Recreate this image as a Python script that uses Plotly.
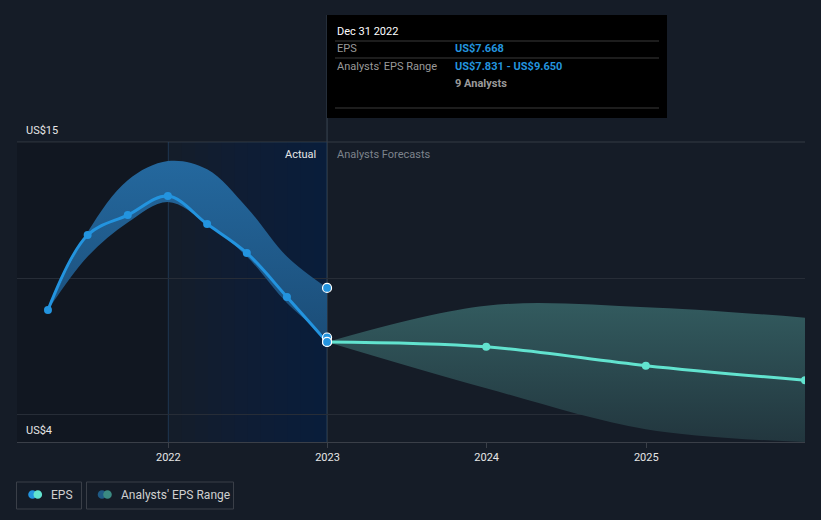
import plotly.graph_objects as go
import datetime as dt

# ---------------- data ----------------
actual_dates = ["2021-03-31", "2021-06-30", "2021-09-30", "2021-12-31",
                "2022-03-31", "2022-06-30", "2022-09-30", "2022-12-31"]
actual_eps = [8.84, 11.59, 12.32, 13.02, 11.99, 10.93, 9.32, 7.668]
actual_range_low = [8.84, 10.8, 12.05, 12.8, 12.0, 10.8, 9.1, 7.831]
actual_range_high = [8.84, 11.7, 13.6, 14.3, 14.0, 12.6, 10.8, 9.65]

forecast_dates = ["2022-12-31", "2023-12-31", "2024-12-31", "2025-12-31"]
forecast_eps = [7.668, 7.49, 6.8, 6.26]
forecast_low = [7.668, 5.97, 4.47, 4.0]
forecast_high = [7.668, 9.0, 8.94, 8.56]

tick_years = ["2022-01-01", "2023-01-01", "2024-01-01", "2025-01-01"]
tick_labels = ["2022", "2023", "2024", "2025"]
y_labels = ["US$15", "US$4"]
y_label_vals = [15, 4]

BG = "#151c27"
BLUE = "#2394df"
TEAL = "#62e3cf"
FONT = "Roboto"

# plot area in pixels
W, H = 821, 520
L, R, T, B = 17, 805, 120, 442


def px(xp):
    return (xp - L) / (R - L)


def py(yp):
    return (B - yp) / (B - T)


fig = go.Figure()

# actual range band
fig.add_trace(go.Scatter(x=actual_dates, y=actual_range_low, mode="lines",
                         line=dict(width=0, shape="spline", color="rgba(0,0,0,0)"),
                         hoverinfo="skip", showlegend=False))
fig.add_trace(go.Scatter(x=actual_dates, y=actual_range_high, mode="lines",
                         line=dict(width=0, shape="spline", color="rgba(0,0,0,0)"),
                         fill="tonexty", fillcolor="rgba(35,125,200,0.6)",
                         fillgradient=dict(type="vertical", start=7.5, stop=14.3,
                                           colorscale=[[0, "rgb(27,76,118)"], [1, "rgb(36,104,158)"]]),
                         hoverinfo="skip", showlegend=False))

# forecast range band
fig.add_trace(go.Scatter(x=forecast_dates, y=forecast_low, mode="lines",
                         line=dict(width=0, shape="spline", color="rgba(0,0,0,0)"),
                         hoverinfo="skip", showlegend=False))
fig.add_trace(go.Scatter(x=forecast_dates, y=forecast_high, mode="lines",
                         line=dict(width=0, shape="spline", color="rgba(0,0,0,0)"),
                         fill="tonexty", fillcolor="rgba(88,200,190,0.28)",
                         fillgradient=dict(type="vertical", start=4, stop=9,
                                           colorscale=[[0, "rgb(34,54,62)"], [1, "rgb(50,90,94)"]]),
                         hoverinfo="skip", showlegend=False))

# forecast EPS line
fig.add_trace(go.Scatter(x=forecast_dates, y=forecast_eps, mode="lines+markers",
                         line=dict(color=TEAL, width=3, shape="spline"),
                         marker=dict(size=8, color=TEAL),
                         showlegend=False))

# actual EPS line
fig.add_trace(go.Scatter(x=actual_dates, y=actual_eps, mode="lines+markers",
                         line=dict(color=BLUE, width=3, shape="spline"),
                         marker=dict(size=8, color=BLUE),
                         showlegend=False))

# highlighted points at the present date
fig.add_trace(go.Scatter(x=[forecast_dates[0]] * 4,
                         y=[forecast_eps[0], actual_range_low[-1], actual_range_high[-1], actual_eps[-1]],
                         mode="markers",
                         marker=dict(size=9, color=BLUE, line=dict(color="white", width=1.2)),
                         showlegend=False, cliponaxis=False))

shapes = []
# darker region before 2022
shapes.append(dict(type="rect", xref="x", yref="y", x0="2021-01-01", x1=tick_years[0],
                   y0=4, y1=15, fillcolor="rgba(0,0,0,0.15)", line_width=0, layer="below"))
# gradient highlight (2022 -> present), overlapping rects for a seamless ramp
n = 11
d0 = dt.date(2022, 1, 1)
d1 = dt.date(2022, 12, 31)
span = (d1 - d0).days
shapes.append(dict(type="rect", xref="x", yref="y", x0=str(d0), x1=str(d1),
                   y0=4, y1=15, fillcolor="rgba(15,75,150,0.03)", line_width=0, layer="below"))
for i in range(1, n + 1):
    a = d0 + dt.timedelta(days=round(span * i / (n + 1)))
    shapes.append(dict(type="rect", xref="x", yref="y", x0=str(a), x1=str(d1),
                       y0=4, y1=15, fillcolor="rgba(15,75,150,0.02)",
                       line_width=0, layer="below"))
# vertical lines
shapes.append(dict(type="line", xref="x", yref="y", x0=tick_years[0], x1=tick_years[0],
                   y0=4, y1=15, line=dict(color="rgba(40,75,110,0.6)", width=1), layer="below"))
shapes.append(dict(type="line", xref="x", yref="paper", x0="2022-12-31", x1="2022-12-31",
                   y0=0, y1=py(15), line=dict(color="#3a4553", width=1), layer="below"))
# top gridline brighter
shapes.append(dict(type="line", xref="paper", yref="y", x0=0, x1=1, y0=15, y1=15,
                   line=dict(color="#343a44", width=1), layer="below"))

# tooltip box
shapes.append(dict(type="rect", xref="paper", yref="paper", x0=px(327), x1=px(667),
                   y0=py(118), y1=py(15), fillcolor="#000000", line_width=0, layer="above"))
for yy in (41, 58, 108):
    shapes.append(dict(type="line", xref="paper", yref="paper", x0=px(335), x1=px(659),
                       y0=py(yy), y1=py(yy), line=dict(color="#3a3a3a", width=1), layer="above"))

# legend boxes
shapes.append(dict(type="rect", xref="paper", yref="paper", x0=px(16.5), x1=px(81.5),
                   y0=py(509), y1=py(482), line=dict(color="#3a3f48", width=1),
                   fillcolor="rgba(0,0,0,0)"))
shapes.append(dict(type="rect", xref="paper", yref="paper", x0=px(86.5), x1=px(233.5),
                   y0=py(509), y1=py(482), line=dict(color="#3a3f48", width=1),
                   fillcolor="rgba(0,0,0,0)"))


def circle(cx, cy, r, color):
    return dict(type="circle", xref="paper", yref="paper",
                x0=px(cx - r), x1=px(cx + r), y0=py(cy + r), y1=py(cy - r),
                fillcolor=color, line_width=0)


shapes += [circle(32.5, 494.5, 4.3, BLUE), circle(37.8, 494.5, 4.3, TEAL),
           circle(102, 494.5, 4.3, "#1f5a85"), circle(107.5, 494.5, 4.3, "#3b8a82")]

ann = []


def text(x, y, s, color, size=11, anchor="left", bold=False):
    ann.append(dict(xref="paper", yref="paper", x=px(x), y=py(y), text=f"<b>{s}</b>" if bold else s,
                    showarrow=False, xanchor=anchor, yanchor="middle",
                    font=dict(family=FONT, size=size, color=color)))


for lab, v in zip(y_labels, y_label_vals):
    ann.append(dict(xref="paper", yref="y", x=px(24), y=v, text=lab, showarrow=False,
                    xanchor="left", yanchor="bottom", yshift=3,
                    font=dict(family=FONT, size=11, color="#e6e6e6")))

text(318, 154, "Actual", "#e6e6e6", 11, anchor="right")
text(335, 154, "Analysts Forecasts", "#7d838c", 11)

text(335, 31, "Dec 31 2022", "#ffffff", 11)
text(335, 49, "EPS", "#9a9a9a", 11)
text(453, 49, "US$7.668", BLUE, 11, bold=True)
text(335, 66, "Analysts' EPS Range", "#9a9a9a", 11)
text(453, 66, "US$7.831 - US$9.650", BLUE, 11, bold=True)
text(453, 83, "9 Analysts", "#9a9a9a", 11, bold=True)

text(49, 495, "EPS", "#d0d0d0", 12)
text(119, 495, "Analysts' EPS Range", "#d0d0d0", 12)

fig.update_layout(
    width=W, height=H,
    margin=dict(l=L, r=W - R, t=T, b=H - B),
    paper_bgcolor=BG, plot_bgcolor=BG,
    showlegend=False,
    shapes=shapes, annotations=ann,
    xaxis=dict(range=["2021-01-19", "2025-12-31"], tickvals=tick_years, ticktext=tick_labels,
               showgrid=False, zeroline=False, showline=True, linecolor="#3a3f48",
               ticks="outside", ticklen=5, tickcolor="#3a3f48",
               tickfont=dict(family=FONT, size=11, color="#e6e6e6")),
    yaxis=dict(range=[4, 4 + (15 - 4) * (B - T) / (B - 142)], tickvals=[5, 10],
               showticklabels=False, showgrid=True, gridcolor="#272d37", zeroline=False,
               showline=False),
    hovermode=False,
)

fig.write_html("out.html")
